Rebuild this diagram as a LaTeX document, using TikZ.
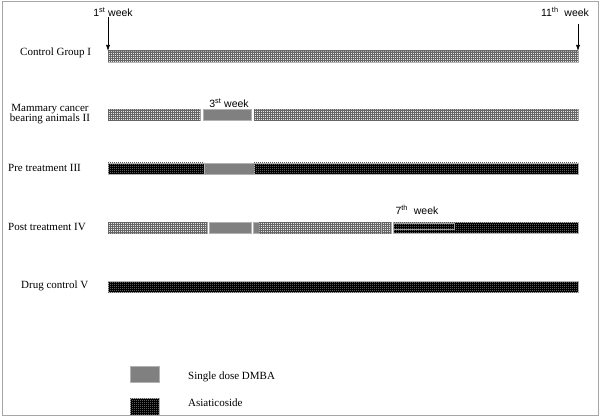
\documentclass[tikz,border=0pt]{standalone}
\usepackage{fontspec}
\setmainfont{Liberation Serif}
\newfontfamily\arialfont{Liberation Sans}
\usetikzlibrary{patterns,arrows.meta}
\pgfdeclarepatternformonly{finegrid}{\pgfqpoint{-0.1pt}{-0.1pt}}{\pgfqpoint{2.1pt}{2.1pt}}{\pgfqpoint{2pt}{2pt}}{%
  \pgfpathrectangle{\pgfpointorigin}{\pgfqpoint{2pt}{0.7pt}}\pgfusepath{fill}%
  \pgfpathrectangle{\pgfpointorigin}{\pgfqpoint{0.7pt}{2pt}}\pgfusepath{fill}}
\pgfdeclarepatternformonly{finedots}{\pgfqpoint{-0.1pt}{-0.1pt}}{\pgfqpoint{2.1pt}{2.1pt}}{\pgfqpoint{2pt}{2pt}}{%
  \pgfpathrectangle{\pgfpointorigin}{\pgfqpoint{0.8pt}{0.8pt}}\pgfusepath{fill}}
\tikzset{
  seg/.style={rectangle, inner sep=0pt, outer sep=0pt, minimum height=11pt, anchor=west, draw=gray!60, line width=0.5pt},
  hatch/.style={seg, fill=gray!20, postaction={pattern=finegrid, pattern color=gray!80!black}},
  dmba/.style={seg, fill=gray},
  asia/.style={seg, fill=black, postaction={pattern=finedots, pattern color=gray!70!black}},
  grp/.style={font=\fontsize{11}{10.5}\selectfont, inner sep=0pt, anchor=west},
  wk/.style={font=\arialfont\fontsize{10.5}{12}\selectfont, inner sep=0pt},
  arr/.style={-{Latex[length=6pt,width=4pt]}, line width=0.6pt}
}
\begin{document}
\begin{tikzpicture}[x=1pt,y=-1pt]
\useasboundingbox (0,0) rectangle (600,417);
% Row I
\node[grp] (l1) at (20,53) {Control Group I};
\node[hatch, minimum width=470pt] (b1) at (108,56.5) {};
\node[wk] (w1) at (113,12) {1\textsuperscript{st} week};
\node[wk] (w11) at (565,12) {11\textsuperscript{th}\ \ week};
\coordinate (a1) at (108,17);
\coordinate (a11) at (578,24);
\draw[arr] (a1) -- (b1.north west);
\draw[arr] (a11) -- (b1.north east);
% Row II
\node[grp, align=center, anchor=center] (l2) at (50,114) {Mammary cancer\\bearing animals II};
\node[hatch, minimum width=92pt] (b2a) at (108,115) {};
\node[dmba, minimum width=48pt] (b2b) at (203,115) {};
\node[hatch, minimum width=324pt] (b2c) at (254,115) {};
\node[wk] (w3) at (229,103) {3\textsuperscript{st} week};
% Row III
\node[grp] (l3) at (8,168) {Pre treatment III};
\node[asia, minimum width=96pt] (b3a) at (108,168.5) {};
\node[dmba, minimum width=50pt] (b3b) at (204,168.5) {};
\node[asia, minimum width=324pt] (b3c) at (254,168.5) {};
% Row IV
\node[grp] (l4) at (8,227) {Post treatment IV};
\node[hatch, minimum width=99pt] (b4a) at (108,227.5) {};
\node[dmba, minimum width=42pt] (b4b) at (209,227.5) {};
\node[dmba, minimum width=6pt] (b4c) at (253,227.5) {};
\node[hatch, minimum width=122pt] (b4d) at (259,227.5) {};
\node[hatch, minimum width=9pt] (b4e) at (382,227.5) {};
\node[asia, minimum width=185pt] (b4f) at (393,227.5) {};
\node[rectangle, draw=gray!75, line width=0.6pt, minimum width=61pt, minimum height=6pt, inner sep=0pt, anchor=north west] (b4g) at (393,222.5) {};
\node[wk] (w7) at (417,210) {7\textsuperscript{th}\ \ week};
% Row V
\node[grp] (l5) at (21,286) {Drug control V};
\node[asia, minimum width=470pt] (b5) at (108,286.5) {};
% Legend
\node[dmba, anchor=center, minimum width=29pt, minimum height=16pt] (k1) at (144.5,374) {};
\node[grp] (k1t) at (188,377) {Single dose DMBA};
\node[asia, anchor=center, minimum width=29pt, minimum height=17pt] (k2) at (144.5,406.5) {};
\node[grp] (k2t) at (188,403) {Asiaticoside};
% Frame
\draw[gray!70, line width=1pt] (2,2) rectangle (598,415);
\end{tikzpicture}
\end{document}
